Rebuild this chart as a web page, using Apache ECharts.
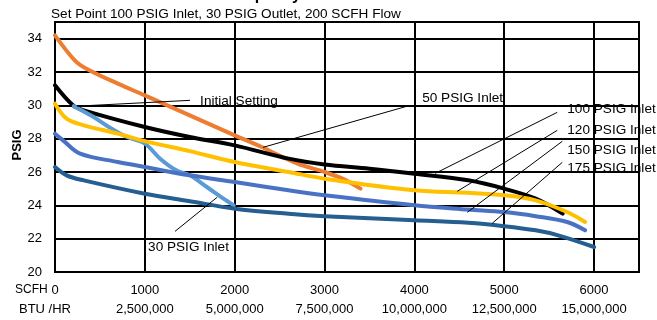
<!DOCTYPE html>
<html><head><meta charset="utf-8">
<script src="https://cdn.jsdelivr.net/npm/echarts@6/dist/echarts.min.js"></script>
<style>html,body{margin:0;padding:0;background:#fff}#c{width:657px;height:320px}</style>
</head><body><div id="c"></div>
<script>
// ---- data (SCFH flow, PSIG outlet) ----
const scfhTicks = [0, 1000, 2000, 3000, 4000, 5000, 6000];
const btuLabels = ['', '2,500,000', '5,000,000', '7,500,000', '10,000,000', '12,500,000', '15,000,000'];
const yTicks = [20, 22, 24, 26, 28, 30, 32, 34];

const inlet50 = [[0,34.2],[220,32.7],[350,32.2],[700,31.3],[1000,30.6],[1500,29.4],[2000,28.2],[2300,27.5],[2700,26.5],[3000,26.0],[3200,25.6],[3400,25.0]];
const inlet100 = [[0,31.2],[200,30.0],[320,29.7],[1000,28.7],[1500,28.1],[2000,27.6],[2600,26.8],[3000,26.45],[3500,26.2],[4000,25.9],[4600,25.5],[5000,25.0],[5350,24.4],[5650,23.5]];
const inlet120 = [[0,30.1],[130,29.2],[320,28.8],[700,28.3],[1000,27.85],[1500,27.25],[2000,26.6],[2600,26.0],[3000,25.6],[4000,24.9],[4600,24.75],[5000,24.6],[5350,24.3],[5700,23.6],[5900,23.0]];
const inlet150 = [[0,28.3],[90,27.9],[280,27.1],[700,26.6],[1000,26.3],[1500,25.8],[2000,25.4],[2600,24.9],[3000,24.6],[4000,24.0],[4600,23.75],[5000,23.6],[5350,23.35],[5700,23.0],[5900,22.5]];
const inlet175 = [[0,26.3],[130,25.8],[320,25.5],[1000,24.7],[1500,24.25],[2000,23.8],[2600,23.5],[3000,23.35],[4000,23.1],[4600,22.95],[5000,22.75],[5350,22.5],[5600,22.2],[6000,21.5]];
const inlet30 = [[210,29.95],[430,29.3],[600,28.7],[800,28.1],[1000,27.7],[1170,26.8],[1350,26.1],[1500,25.8],[1690,25.1],[1875,24.4],[1990,24.0]];

// annotation labels: text, text anchor (data), leader line from -> to (data)
const annoText = ['Initial Setting', '50 PSIG Inlet', '100 PSIG Inlet', '120 PSIG Inlet', '150 PSIG Inlet', '175 PSIG Inlet', '30 PSIG Inlet'];
const annoAt = [[1615,30.24],[4087,30.42],[5702,29.76],[5702,28.5],[5702,27.3],[5702,26.22],[1036,21.48]];
const annoFrom = [[245,29.95],[2316,27.48],[4232,25.92],[4477,24.84],[4588,23.58],[4866,22.92],[1336,22.44]];
const annoTo = [[1503,30.3],[3953,30.0],[5590,29.58],[5590,28.5],[5646,27.84],[5646,26.58],[1804,24.48]];

const FONT = 'Liberation Sans';
const chart = echarts.init(document.getElementById('c'), null, {renderer: 'canvas'});

function mk(name, data, color) {
  return {name, type: 'line', data, smooth: 0.35, showSymbol: false, symbol: 'none',
    lineStyle: {color, width: 4, cap: 'round', join: 'round'}, z: 3};
}

chart.setOption({
  animation: false,
  backgroundColor: '#fff',
  grid: {left: 55, top: 22, right: 18, bottom: 48, show: true, borderColor: '#000', borderWidth: 2, backgroundColor: 'transparent'},
  xAxis: {type: 'value', min: 0, max: 6500, interval: 1000,
    axisLine: {lineStyle: {color: '#000', width: 2}}, axisTick: {show: false},
    splitLine: {show: true, lineStyle: {color: '#000', width: 2}},
    axisLabel: {margin: 9, color: '#000', fontFamily: FONT, fontSize: 13, lineHeight: 19,
      formatter: v => { const i = scfhTicks.indexOf(v); if (i < 0) return ''; return i === 0 ? '0' : v + '\n' + btuLabels[i]; }}},
  yAxis: {type: 'value', min: 20, max: 35, interval: 2,
    axisLine: {show: true, lineStyle: {color: '#000', width: 2}}, axisTick: {show: false},
    splitLine: {show: true, lineStyle: {color: '#000', width: 2}},
    axisLabel: {margin: 13, color: '#000', fontFamily: FONT, fontSize: 13,
      formatter: v => yTicks.indexOf(v) >= 0 ? String(v) : ''}},
  series: [
    mk('50 PSIG Inlet', inlet50, '#ED7D31'),
    mk('100 PSIG Inlet', inlet100, '#000000'),
    mk('30 PSIG Inlet', inlet30, '#5B9BD5'),
    mk('120 PSIG Inlet', inlet120, '#FFC000'),
    mk('150 PSIG Inlet', inlet150, '#4A72C4'),
    mk('175 PSIG Inlet', inlet175, '#255E91')
  ]
});

const px = p => chart.convertToPixel({gridIndex: 0}, p);
const g = [];
const F = (s, b) => (b ? 'bold ' : '') + s + 'px "' + FONT + '"';
g.push({type: 'text', x: 51, y: 14, style: {text: 'Set Point 100 PSIG Inlet, 30 PSIG Outlet, 200 SCFH Flow', font: F(13.6), fill: '#000', textVerticalAlign: 'middle'}});
g.push({type: 'text', x: 301, y: 4, style: {text: 'Outlet Pressure vs. Flow Capacity', font: F(16, true), fill: '#000', textAlign: 'right', textVerticalAlign: 'bottom'}});
g.push({type: 'text', x: 17, y: 145, rotation: Math.PI / 2, style: {text: 'PSIG', font: F(13, true), fill: '#000', textAlign: 'center', textVerticalAlign: 'middle'}});
g.push({type: 'text', x: 15, y: 290, style: {text: 'SCFH', font: F(12), fill: '#000', textVerticalAlign: 'middle'}});
g.push({type: 'text', x: 19, y: 309, style: {text: 'BTU /HR', font: F(13), fill: '#000', textVerticalAlign: 'middle'}});
for (let i = 0; i < annoText.length; i++) {
  const a = px(annoFrom[i]), b = px(annoTo[i]), t = px(annoAt[i]);
  g.push({type: 'line', shape: {x1: a[0], y1: a[1], x2: b[0], y2: b[1]}, style: {stroke: '#000', lineWidth: 1}, z: 10});
  g.push({type: 'text', x: t[0], y: t[1], style: {text: annoText[i], font: F(13.6), fill: '#000', textVerticalAlign: 'middle'}, z: 10});
}
chart.setOption({graphic: g});
</script></body></html>
